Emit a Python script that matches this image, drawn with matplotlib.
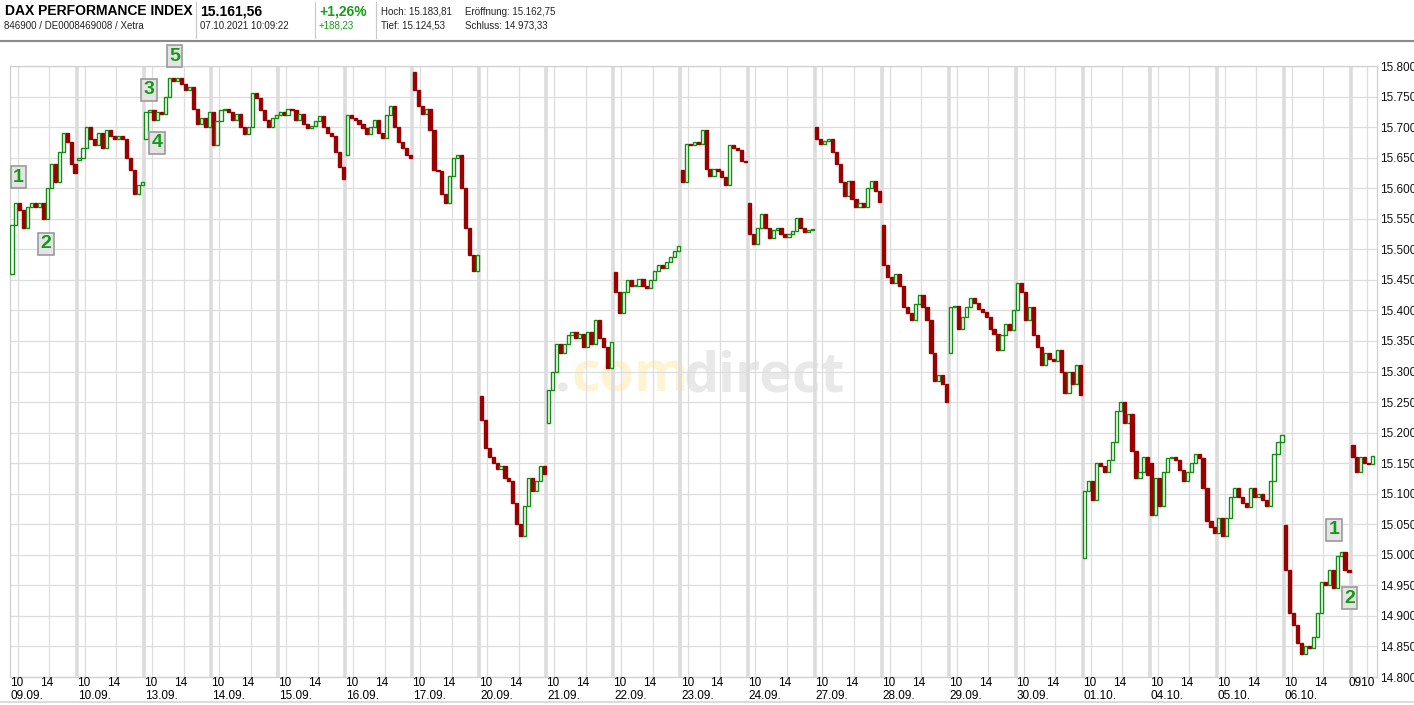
import numpy as np
import matplotlib.pyplot as plt
from matplotlib.lines import Line2D

plt.rcParams['font.family'] = ['Liberation Sans', 'DejaVu Sans']

# trading days shown on the x axis
days = ['09.09.', '10.09.', '13.09.', '14.09.', '15.09.', '16.09.', '17.09.',
        '20.09.', '21.09.', '22.09.', '23.09.', '24.09.', '27.09.', '28.09.',
        '29.09.', '30.09.', '01.10.', '04.10.', '05.10.', '06.10.', '07.10.']

# per day: open of the first 30-min candle, then the close of every candle
p_0909 = [15460, 15540, 15575, 15565, 15535, 15570, 15575, 15570, 15575, 15550, 15600, 15640, 15610, 15660, 15690, 15675, 15640, 15625]
p_1009 = [15646, 15650, 15665, 15700, 15680, 15670, 15690, 15665, 15695, 15685, 15680, 15685, 15680, 15650, 15630, 15590, 15605, 15610]
p_1309 = [15680, 15725, 15728, 15712, 15725, 15722, 15750, 15780, 15775, 15780, 15770, 15760, 15765, 15730, 15705, 15715, 15700, 15725]
p_1409 = [15725, 15670, 15710, 15728, 15730, 15725, 15712, 15722, 15700, 15688, 15700, 15755, 15748, 15728, 15712, 15700, 15715, 15720]
p_1509 = [15720, 15725, 15720, 15730, 15728, 15712, 15722, 15705, 15698, 15702, 15710, 15718, 15700, 15690, 15685, 15660, 15635, 15615]
p_1609 = [15655, 15720, 15715, 15712, 15705, 15698, 15688, 15700, 15712, 15690, 15682, 15720, 15735, 15700, 15675, 15665, 15655, 15650]
p_1709 = [15790, 15760, 15735, 15722, 15730, 15695, 15630, 15628, 15590, 15575, 15620, 15650, 15655, 15600, 15535, 15490, 15465, 15490]
p_2009 = [15260, 15220, 15175, 15160, 15150, 15140, 15145, 15125, 15120, 15085, 15050, 15030, 15080, 15125, 15105, 15120, 15145, 15133]
p_2109 = [15215, 15270, 15300, 15345, 15330, 15345, 15360, 15365, 15355, 15362, 15340, 15365, 15345, 15385, 15355, 15340, 15305, 15348]
p_2209 = [15463, 15430, 15395, 15430, 15450, 15440, 15440, 15452, 15440, 15437, 15450, 15465, 15475, 15470, 15480, 15488, 15497, 15505]
p_2309 = [15630, 15610, 15672, 15670, 15675, 15672, 15695, 15632, 15620, 15632, 15628, 15618, 15605, 15670, 15665, 15662, 15645, 15643]
p_2409 = [15575, 15525, 15508, 15535, 15558, 15535, 15518, 15532, 15535, 15525, 15520, 15525, 15530, 15552, 15535, 15528, 15532, 15532]
p_2709 = [15700, 15680, 15672, 15678, 15680, 15660, 15640, 15610, 15588, 15612, 15582, 15570, 15575, 15570, 15600, 15612, 15595, 15578]
p_2809 = [15540, 15475, 15455, 15445, 15460, 15440, 15405, 15395, 15385, 15410, 15425, 15405, 15385, 15330, 15285, 15295, 15280, 15250]
p_2909 = [15330, 15405, 15408, 15370, 15390, 15405, 15420, 15412, 15402, 15398, 15390, 15370, 15362, 15335, 15360, 15378, 15368, 15400]
p_3009 = [15400, 15445, 15430, 15385, 15405, 15360, 15340, 15310, 15330, 15320, 15318, 15335, 15300, 15265, 15300, 15280, 15310, 15261]
p_0110 = [14995, 15105, 15120, 15090, 15150, 15145, 15135, 15155, 15185, 15235, 15250, 15215, 15230, 15170, 15125, 15135, 15160, 15130]
p_0410 = [15150, 15065, 15125, 15080, 15135, 15158, 15160, 15155, 15138, 15120, 15135, 15150, 15165, 15158, 15110, 15055, 15045, 15035]
p_0510 = [15035, 15060, 15030, 15060, 15095, 15110, 15095, 15085, 15078, 15110, 15095, 15100, 15090, 15080, 15120, 15165, 15185, 15196]
p_0610 = [15048, 14975, 14905, 14885, 14855, 14838, 14850, 14848, 14865, 14905, 14955, 14950, 14975, 14945, 14998, 15005, 14975, 14972]
p_0710 = [15180, 15160, 15135, 15160, 15150, 15148, 15162]

day_prices = [p_0909, p_1009, p_1309, p_1409, p_1509, p_1609, p_1709, p_2009, p_2109, p_2209,
              p_2309, p_2409, p_2709, p_2809, p_2909, p_3009, p_0110, p_0410, p_0510, p_0610, p_0710]

# numbered markers: (label, x in hours from chart start, price)
marks = [('1', 1.08, 15618), ('2', 4.56, 15509), ('3', 17.62, 15761), ('4', 18.63, 15674),
         ('5', 20.85, 15816), ('1', 167.85, 15041), ('2', 169.8, 14929)]

W, H = 1414, 705
GREEN = '#128c12'
RED = '#990000'
DAYLEN = 8.5   # 09:00 - 17:30

fig = plt.figure(figsize=(W / 100, H / 100), dpi=100)
fig.patch.set_facecolor('white')
ax = fig.add_axes([10 / W, (H - 677) / H, (1377 - 10) / W, (677 - 66) / H])
ax.set_xlim(0, 173.3)
ax.set_ylim(14800, 15800)

# grid
for lvl in np.arange(14800, 15801, 50):
    ax.axhline(lvl, color='#dddddd', lw=0.9, zorder=1)
for i in range(len(days)):
    s = i * DAYLEN
    if i > 0:
        ax.axvline(s, color='#dcdcdc', lw=2.6, zorder=1)
    if i < len(days) - 1:
        ax.axvline(s + 1, color='#dddddd', lw=0.9, zorder=1)
        ax.axvline(s + 5, color='#dddddd', lw=0.9, zorder=1)
    else:
        ax.axvline(s + 2, color='#dddddd', lw=0.9, zorder=1)

# candles
for i, p in enumerate(day_prices):
    s = i * DAYLEN
    for k in range(len(p) - 1):
        o, c = p[k], p[k + 1]
        xc = s + 0.25 + 0.5 * k
        lo = min(o, c)
        h = max(abs(c - o), 1.5)
        if c >= o:
            ax.bar(xc, h, 0.4, bottom=lo, facecolor='white', edgecolor=GREEN, lw=1.0, zorder=3)
        else:
            ax.bar(xc, h, 0.4, bottom=lo, facecolor=RED, edgecolor=RED, lw=1.0, zorder=3)

# watermark
wm_y = (677 - 392) / 611
ax.text((555 - 10) / 1367, wm_y, '.', transform=ax.transAxes, fontsize=40, fontweight='bold',
        family='Open Sans', color='#e8e8e8', zorder=0.5)
ax.text((571 - 10) / 1367, wm_y, 'com', transform=ax.transAxes, fontsize=40, fontweight='bold',
        family='Open Sans', color='#fff4d2', zorder=0.5)
ax.text((684 - 10) / 1367, wm_y, 'direct', transform=ax.transAxes, fontsize=40, fontweight='bold',
        family='Open Sans', color='#e8e8e8', zorder=0.5)

# numbered boxes
for lab, mx, my in marks:
    ax.text(mx, my, lab, ha='center', va='center', fontsize=14, fontweight='bold', color='#159a15',
            zorder=5, clip_on=False,
            bbox=dict(boxstyle='square,pad=0.12', fc='#e4e4e4', ec='#9a9a9a', lw=1.2))

# axes styling
for sp in ax.spines.values():
    sp.set_color('#d0d0d0')
    sp.set_linewidth(0.9)
ax.set_xticks([])
ax.yaxis.tick_right()
ax.set_yticks(np.arange(14800, 15801, 50))
ax.set_yticklabels([f'{v:,}'.replace(',', '.') for v in range(14800, 15801, 50)])
ax.tick_params(axis='y', length=0, pad=2, labelsize=8.5, labelcolor='#111111')

# x labels
tr = ax.get_xaxis_transform()
for i, d in enumerate(days):
    s = i * DAYLEN
    if i < len(days) - 1:
        ax.text(s + 0.85, -0.010, '10', transform=tr, ha='center', va='center', fontsize=8.5)
        ax.text(s + 4.65, -0.010, '14', transform=tr, ha='center', va='center', fontsize=8.5)
        ax.text(s + 0.1, -0.031, d, transform=tr, ha='left', va='center', fontsize=8.5)
    else:
        ax.text(s + 1.4, -0.010, '0910', transform=tr, ha='center', va='center', fontsize=8.5)

# header
def px(x, y):
    return x / W, 1 - y / H

fig.text(*px(5, 11), 'DAX PERFORMANCE INDEX', fontsize=10, fontweight='bold', va='center')
fig.text(*px(4, 26), '846900 / DE0008469008 / Xetra', fontsize=7, va='center', color='#222222')
fig.text(*px(200, 11), '15.161,56', fontsize=10, fontweight='bold', va='center')
fig.text(*px(200, 26), '07.10.2021 10:09:22', fontsize=7, va='center', color='#222222')
fig.text(*px(319, 11), '+1,26%', fontsize=10, fontweight='bold', va='center', color='#1a9a1a')
fig.text(*px(319, 26), '+188,23', fontsize=7, va='center', color='#1a9a1a')
fig.text(*px(381, 12), 'Hoch: 15.183,81', fontsize=7, va='center', color='#222222')
fig.text(*px(465, 12), 'Eröffnung: 15.162,75', fontsize=7, va='center', color='#222222')
fig.text(*px(381, 26), 'Tief: 15.124,53', fontsize=7, va='center', color='#222222')
fig.text(*px(465, 26), 'Schluss: 14.973,33', fontsize=7, va='center', color='#222222')
for sx in [196, 315, 376]:
    fig.add_artist(Line2D([sx / W] * 2, [1 - 2 / H, 1 - 38 / H], transform=fig.transFigure,
                          color='#c8c8c8', lw=0.8))
fig.add_artist(Line2D([0, 1], [1 - 41 / H] * 2, transform=fig.transFigure, color='#8a8a8a', lw=1.5))
fig.add_artist(Line2D([0, 1], [1 - 702 / H] * 2, transform=fig.transFigure, color='#d6d6d6', lw=1.2))

fig.savefig('out.png', dpi=100)
